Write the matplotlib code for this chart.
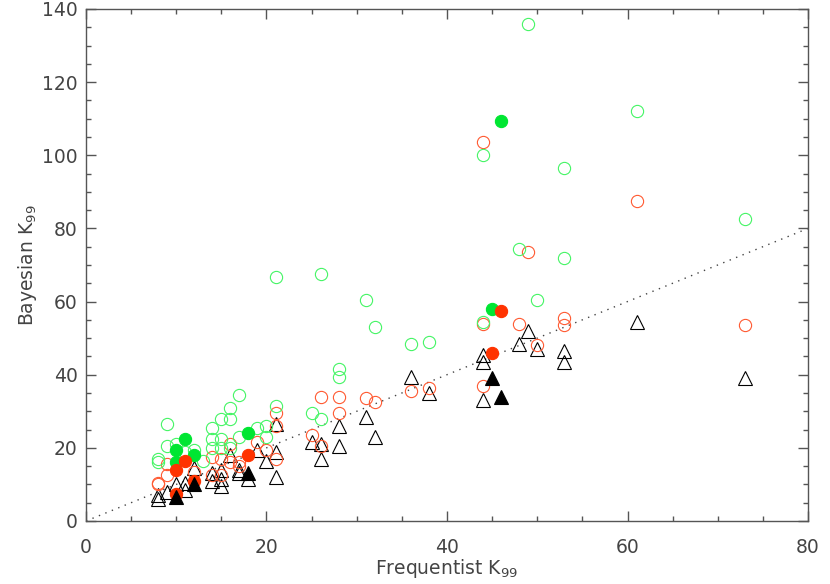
import matplotlib
matplotlib.use("Agg")
import matplotlib.pyplot as plt
from matplotlib.ticker import MultipleLocator

# ---- data ----
green_open_x = [8, 8, 9, 9, 10, 11, 12, 14, 14, 14, 15, 15, 15, 16, 16, 16, 17, 17,
                19, 20, 21, 21, 25, 26, 26, 28, 28, 31, 32, 36, 38, 44, 44, 48, 49,
                50, 53, 53, 61, 73, 20, 13]
green_open_y = [17, 16, 26.5, 20.5, 21, 19, 19.5, 25.5, 22.5, 20, 28, 22.5, 20, 31, 28, 20, 34.5, 23,
                25.5, 23, 31.5, 66.8, 29.5, 28, 67.5, 41.5, 39.5, 60.5, 53, 48.5, 49, 100, 54.5, 74.5, 136,
                60.5, 96.5, 72, 112, 82.5, 26, 16.5]

green_fill_x = [10, 11, 12, 10, 18, 45, 46]
green_fill_y = [19.5, 22.5, 18, 16, 24, 58, 109.5]

red_open_x = [8, 8, 9, 9, 12, 14, 14, 15, 15, 16, 16, 17, 17, 19, 20, 21, 21, 21,
              25, 26, 26, 28, 28, 31, 32, 36, 38, 44, 44, 44, 48, 49, 50, 53, 53, 61, 73]
red_open_y = [10.5, 10, 15.5, 12.5, 13.5, 17.5, 12.5, 17, 12.5, 21, 16, 16, 15, 21.5, 19.5, 17, 29.5, 26,
              23.5, 34, 20.5, 34, 29.5, 33.5, 32.5, 35.5, 36.5, 103.5, 54, 37, 54, 73.5, 48, 55.5, 53.5, 87.5, 53.5]

red_fill_x = [10, 11, 12, 10, 18, 45, 46]
red_fill_y = [14, 16.5, 11, 7.5, 18, 46, 57.5]

tri_open_x = [8, 8, 9, 10, 11, 11, 12, 14, 14, 15, 15, 15, 16, 17, 17, 18,
              19, 20, 21, 21, 21, 25, 26, 26, 28, 28, 31, 32, 36, 38,
              44, 44, 44, 48, 49, 50, 53, 53, 61, 73]
tri_open_y = [7, 6, 8, 10, 10.5, 8.5, 14.5, 13, 11, 14, 11.5, 9.5, 18, 14, 13, 11.5,
              19.5, 16.5, 19, 12, 26.5, 21.5, 21, 17, 26, 20.5, 28.5, 23, 39.5, 35,
              45.5, 43.5, 33, 48.5, 52, 47, 46.5, 43.5, 54.5, 39]

tri_fill_x = [10, 12, 18, 45, 46]
tri_fill_y = [6.5, 10, 13, 39, 34]

diag = [0, 80]

GREEN_OPEN = "#45f565"
GREEN_FILL = "#00e632"
RED_OPEN = "#ff5a32"
RED_FILL = "#ff3300"
AX_COL = "#555555"
TXT_COL = "#444444"

fig = plt.figure(figsize=(8.3, 5.84), dpi=100)
ax = fig.add_axes([0.1036, 0.1079, 0.8699, 0.8767])

ax.plot(diag, diag, linestyle=(0, (1, 4)), color="#444444", linewidth=1.0, zorder=1)

ms_c = 8.8
ms_t = 9.8
lw = 0.8

ax.plot(tri_open_x, tri_open_y, linestyle="none", marker="^", markersize=ms_t,
        markerfacecolor="none", markeredgecolor="black", markeredgewidth=lw, zorder=2)
ax.plot(red_open_x, red_open_y, linestyle="none", marker="o", markersize=ms_c,
        markerfacecolor="none", markeredgecolor=RED_OPEN, markeredgewidth=lw, zorder=3)
ax.plot(green_open_x, green_open_y, linestyle="none", marker="o", markersize=ms_c,
        markerfacecolor="none", markeredgecolor=GREEN_OPEN, markeredgewidth=lw, zorder=3)
ax.plot(green_fill_x, green_fill_y, linestyle="none", marker="o", markersize=ms_c,
        markerfacecolor=GREEN_FILL, markeredgecolor=GREEN_FILL, markeredgewidth=lw, zorder=4)
ax.plot(red_fill_x, red_fill_y, linestyle="none", marker="o", markersize=ms_c,
        markerfacecolor=RED_FILL, markeredgecolor=RED_FILL, markeredgewidth=lw, zorder=5)
ax.plot(tri_fill_x, tri_fill_y, linestyle="none", marker="^", markersize=ms_t,
        markerfacecolor="black", markeredgecolor="black", markeredgewidth=lw, zorder=6)

ax.set_xlim(0, 80)
ax.set_ylim(0, 140)
ax.xaxis.set_major_locator(MultipleLocator(20))
ax.xaxis.set_minor_locator(MultipleLocator(5))
ax.yaxis.set_major_locator(MultipleLocator(20))
ax.yaxis.set_minor_locator(MultipleLocator(5))

for s in ax.spines.values():
    s.set_color(AX_COL)
    s.set_linewidth(1.0)

ax.tick_params(which="both", direction="in", top=True, right=True, color=AX_COL,
               labelcolor=TXT_COL, labelsize=13.5)
ax.tick_params(which="major", length=7, width=1.0)
ax.tick_params(which="minor", length=3.5, width=1.0)
ax.tick_params(axis="x", which="major", pad=12)
ax.tick_params(axis="y", which="major", pad=6)

ax.set_xlabel("Frequentist K$_{99}$", fontsize=13.5, color=TXT_COL, labelpad=0)
ax.set_ylabel("Bayesian K$_{99}$", fontsize=13.5, color=TXT_COL, labelpad=2)

fig.savefig("out.png", dpi=100)
